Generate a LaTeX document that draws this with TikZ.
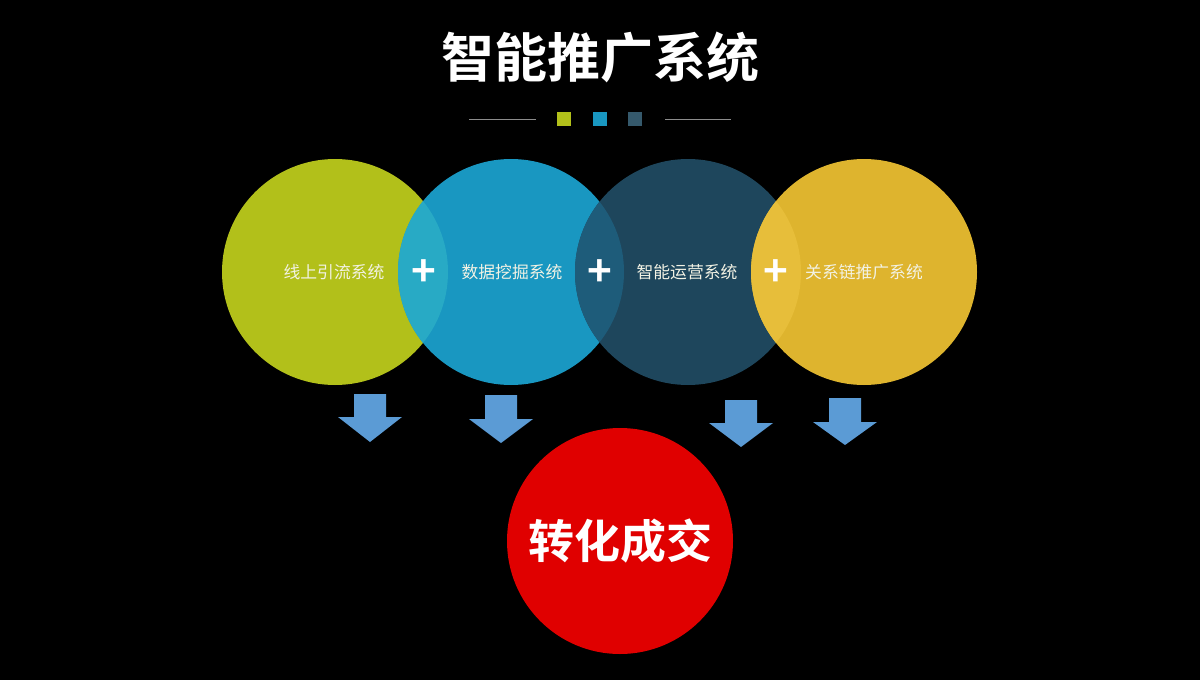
\documentclass[tikz,border=0pt]{standalone}
\usepackage{fontspec}
\newfontfamily\cjk{Noto Sans CJK SC}
\newfontfamily\cjkb{Noto Sans CJK SC Bold}
\definecolor{cgreen}{RGB}{178,192,26}
\definecolor{cblue}{RGB}{25,151,193}
\definecolor{cdark}{RGB}{30,70,92}
\definecolor{cyellow}{RGB}{222,180,46}
\definecolor{lensgb}{RGB}{40,170,197}
\definecolor{lensbd}{RGB}{30,92,122}
\definecolor{lensdy}{RGB}{231,190,58}
\definecolor{cred}{RGB}{224,0,0}
\definecolor{carrow}{RGB}{91,155,213}
\definecolor{ctext}{RGB}{242,242,228}
\definecolor{cline}{RGB}{140,140,140}
\begin{document}
\begin{tikzpicture}[x=0.5pt,y=-0.5pt,
  bigcircle/.style={circle,minimum size=113pt,inner sep=0pt,draw=none},
  sysname/.style={text=ctext,font=\cjk\fontsize{8.4pt}{10pt}\selectfont},
  plussign/.style={text=white,font=\cjkb\fontsize{21pt}{23pt}\selectfont,inner sep=0pt},
  blockarrow/.style={fill=carrow,draw=none}]
\useasboundingbox[fill=black] (0,0) rectangle (1200,680);
% title
\node[text=white,font=\cjkb\fontsize{26.5pt}{30pt}\selectfont] (title) at (600,57) {智能推广系统};
% decoration
\coordinate (l1a) at (469,119); \coordinate (l1b) at (536,119);
\coordinate (l2a) at (665,119); \coordinate (l2b) at (731,119);
\draw[cline,line width=0.5pt] (l1a) -- (l1b);
\draw[cline,line width=0.5pt] (l2a) -- (l2b);
\node[fill=cgreen,minimum size=7pt,inner sep=0pt] (sq1) at (564,119) {};
\node[fill=cblue,minimum size=7pt,inner sep=0pt] (sq2) at (600,119) {};
\node[fill=cdark!90!white,minimum size=7pt,inner sep=0pt] (sq3) at (635,119) {};
% circles
\coordinate (c1) at (335,272);
\coordinate (c2) at (511,272);
\coordinate (c3) at (688,272);
\coordinate (c4) at (864,272);
\node[bigcircle,fill=cgreen] (g) at (c1) {};
\node[bigcircle,fill=cblue] (b) at (c2) {};
\node[bigcircle,fill=cdark] (d) at (c3) {};
\node[bigcircle,fill=cyellow] (y) at (c4) {};
\begin{scope}
  \clip (c1) circle[radius=113];
  \fill[lensgb] (c2) circle[radius=113];
\end{scope}
\begin{scope}
  \clip (c2) circle[radius=113];
  \fill[lensbd] (c3) circle[radius=113];
\end{scope}
\begin{scope}
  \clip (c3) circle[radius=113];
  \fill[lensdy] (c4) circle[radius=113];
\end{scope}
% labels
\node[sysname] (t1) at (334,272) {线上引流系统};
\node[sysname] (t2) at (512,272) {数据挖掘系统};
\node[sysname] (t3) at (687,272) {智能运营系统};
\node[sysname] (t4) at (864,272) {关系链推广系统};
\node[plussign] (p1) at (424,273) {+};
\node[plussign] (p2) at (600,273) {+};
\node[plussign] (p3) at (776,273) {+};
% arrows
\fill[blockarrow] (354,394) -- (386,394) -- (386,417) -- (402,417) -- (370,442) -- (338,417) -- (354,417) -- cycle;
\fill[blockarrow] (485,395) -- (517,395) -- (517,419) -- (533,419) -- (501,443) -- (469,419) -- (485,419) -- cycle;
\fill[blockarrow] (725,400) -- (757,400) -- (757,423) -- (773,423) -- (741,447) -- (709,423) -- (725,423) -- cycle;
\fill[blockarrow] (829,398) -- (861,398) -- (861,422) -- (877,422) -- (845,445) -- (813,422) -- (829,422) -- cycle;
% result
\node[bigcircle,fill=cred,text=white,font=\cjkb\fontsize{23pt}{26pt}\selectfont] (r) at (620,541) {转化成交};
\end{tikzpicture}
\end{document}
